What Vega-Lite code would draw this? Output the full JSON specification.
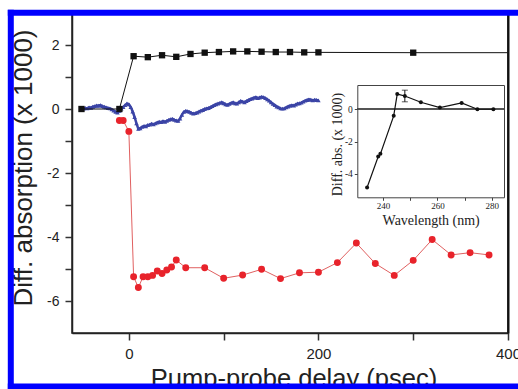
{
  "$schema": "https://vega.github.io/schema/vega-lite/v6.json",
  "width": 436,
  "height": 320,
  "autosize": {"type": "none"},
  "padding": {"left": 72, "top": 13, "right": 10, "bottom": 56},
  "background": "white",
  "config": {
    "view": {"stroke": "#222", "strokeWidth": 1.5},
    "axis": {"grid": false, "labelFont": "Liberation Sans", "titleFont": "Liberation Sans", "titleFontWeight": "normal"}
  },
  "datasets": {
    "blue": [
      {"t": -50, "v": 0.00}, {"t": -48, "v": 0.01}, {"t": -46, "v": 0.03}, {"t": -44, "v": 0.02}, {"t": -42, "v": 0.05},
      {"t": -40, "v": 0.04}, {"t": -38, "v": 0.07}, {"t": -36, "v": 0.09}, {"t": -34, "v": 0.11}, {"t": -32, "v": 0.10},
      {"t": -30, "v": 0.12}, {"t": -28, "v": 0.09}, {"t": -26, "v": 0.07}, {"t": -24, "v": 0.05}, {"t": -22, "v": 0.03},
      {"t": -20, "v": 0.02}, {"t": -18, "v": -0.01}, {"t": -16, "v": -0.05}, {"t": -14, "v": -0.09}, {"t": -12, "v": -0.11},
      {"t": -10, "v": -0.06}, {"t": -8, "v": 0.01}, {"t": -6, "v": 0.06}, {"t": -4, "v": 0.12}, {"t": -2, "v": 0.17},
      {"t": 0, "v": 0.15}, {"t": 2, "v": 0.06}, {"t": 4, "v": -0.08}, {"t": 6, "v": -0.25}, {"t": 8, "v": -0.45},
      {"t": 10, "v": -0.62}, {"t": 12, "v": -0.60}, {"t": 14, "v": -0.56}, {"t": 16, "v": -0.53}, {"t": 18, "v": -0.54},
      {"t": 20, "v": -0.50}, {"t": 22, "v": -0.49}, {"t": 24, "v": -0.46}, {"t": 26, "v": -0.48}, {"t": 28, "v": -0.45},
      {"t": 30, "v": -0.42}, {"t": 32, "v": -0.40}, {"t": 34, "v": -0.41}, {"t": 36, "v": -0.38}, {"t": 38, "v": -0.40},
      {"t": 40, "v": -0.37}, {"t": 42, "v": -0.34}, {"t": 44, "v": -0.32}, {"t": 46, "v": -0.31}, {"t": 48, "v": -0.34},
      {"t": 50, "v": -0.36}, {"t": 52, "v": -0.37}, {"t": 54, "v": -0.30}, {"t": 56, "v": -0.18}, {"t": 58, "v": -0.09},
      {"t": 60, "v": -0.06}, {"t": 62, "v": -0.07}, {"t": 64, "v": -0.09}, {"t": 66, "v": -0.12}, {"t": 68, "v": -0.14},
      {"t": 70, "v": -0.13}, {"t": 72, "v": -0.11}, {"t": 74, "v": -0.08}, {"t": 76, "v": -0.05}, {"t": 78, "v": -0.03},
      {"t": 80, "v": 0.00}, {"t": 82, "v": 0.02}, {"t": 84, "v": 0.03}, {"t": 86, "v": 0.06}, {"t": 88, "v": 0.09},
      {"t": 90, "v": 0.12}, {"t": 92, "v": 0.15}, {"t": 94, "v": 0.17}, {"t": 96, "v": 0.19}, {"t": 98, "v": 0.21},
      {"t": 100, "v": 0.18}, {"t": 102, "v": 0.15}, {"t": 104, "v": 0.13}, {"t": 106, "v": 0.16}, {"t": 108, "v": 0.19},
      {"t": 110, "v": 0.21}, {"t": 112, "v": 0.18}, {"t": 114, "v": 0.17}, {"t": 116, "v": 0.21}, {"t": 118, "v": 0.25},
      {"t": 120, "v": 0.23}, {"t": 122, "v": 0.21}, {"t": 124, "v": 0.25}, {"t": 126, "v": 0.28}, {"t": 128, "v": 0.31},
      {"t": 130, "v": 0.33}, {"t": 132, "v": 0.35}, {"t": 134, "v": 0.37}, {"t": 136, "v": 0.34}, {"t": 138, "v": 0.36},
      {"t": 140, "v": 0.38}, {"t": 142, "v": 0.37}, {"t": 144, "v": 0.34}, {"t": 146, "v": 0.30}, {"t": 148, "v": 0.26},
      {"t": 150, "v": 0.21}, {"t": 152, "v": 0.16}, {"t": 154, "v": 0.12}, {"t": 156, "v": 0.08}, {"t": 158, "v": 0.05},
      {"t": 160, "v": 0.02}, {"t": 162, "v": 0.01}, {"t": 164, "v": 0.02}, {"t": 166, "v": 0.05}, {"t": 168, "v": 0.08},
      {"t": 170, "v": 0.10}, {"t": 172, "v": 0.12}, {"t": 174, "v": 0.11}, {"t": 176, "v": 0.14}, {"t": 178, "v": 0.17},
      {"t": 180, "v": 0.18}, {"t": 182, "v": 0.20}, {"t": 184, "v": 0.23}, {"t": 186, "v": 0.26}, {"t": 188, "v": 0.28},
      {"t": 190, "v": 0.30}, {"t": 192, "v": 0.29}, {"t": 194, "v": 0.27}, {"t": 196, "v": 0.29}, {"t": 198, "v": 0.28},
      {"t": 200, "v": 0.27}
    ],
    "red": [
      {"t": -10, "v": -0.36}, {"t": -6, "v": -0.36}, {"t": 0, "v": -0.70}, {"t": 5, "v": -5.24}, {"t": 10, "v": -5.58},
      {"t": 15, "v": -5.24}, {"t": 20, "v": -5.24}, {"t": 25, "v": -5.20}, {"t": 30, "v": -5.06}, {"t": 35, "v": -5.14},
      {"t": 40, "v": -5.03}, {"t": 45, "v": -4.94}, {"t": 50, "v": -4.72}, {"t": 60, "v": -4.96}, {"t": 80, "v": -4.96},
      {"t": 100, "v": -5.29}, {"t": 120, "v": -5.19}, {"t": 140, "v": -5.01}, {"t": 160, "v": -5.30}, {"t": 180, "v": -5.12},
      {"t": 200, "v": -5.10}, {"t": 220, "v": -4.80}, {"t": 240, "v": -4.19}, {"t": 260, "v": -4.83}, {"t": 280, "v": -5.20},
      {"t": 300, "v": -4.73}, {"t": 320, "v": -4.08}, {"t": 340, "v": -4.56}, {"t": 360, "v": -4.49}, {"t": 380, "v": -4.56}
    ],
    "black": [
      {"t": -50, "v": 0}, {"t": -10, "v": 0}, {"t": 5, "v": 1.65}, {"t": 20, "v": 1.62}, {"t": 35, "v": 1.68},
      {"t": 50, "v": 1.63}, {"t": 65, "v": 1.72}, {"t": 80, "v": 1.76}, {"t": 95, "v": 1.78}, {"t": 110, "v": 1.80},
      {"t": 125, "v": 1.80}, {"t": 140, "v": 1.79}, {"t": 155, "v": 1.78}, {"t": 170, "v": 1.78}, {"t": 185, "v": 1.77},
      {"t": 200, "v": 1.77}, {"t": 300, "v": 1.76}, {"t": 430, "v": 1.76}
    ],
    "inset": [
      {"wl": 234.1, "v": -4.84}, {"wl": 238.2, "v": -2.93}, {"wl": 239.0, "v": -2.76}, {"wl": 243.9, "v": -0.41},
      {"wl": 245.2, "v": 0.94}, {"wl": 248.0, "v": 0.82}, {"wl": 253.9, "v": 0.43}, {"wl": 260.9, "v": 0.10},
      {"wl": 268.9, "v": 0.39}, {"wl": 274.7, "v": 0.00}, {"wl": 280.6, "v": 0.00}
    ],
    "err": [{"wl": 248.0, "lo": 0.46, "hi": 1.18}],
    "frame": [{"k": 0}]
  },
  "layer": [
    {
      "resolve": {"axis": {"y": "independent"}},
      "layer": [
        {
          "data": {"name": "blue"},
          "mark": {"type": "line", "color": "#3b44a6", "strokeWidth": 2.5, "clip": true, "point": {"shape": "triangle-up", "size": 20, "filled": true, "color": "#3b44a6"}},
          "encoding": {
            "x": {"field": "t", "type": "quantitative", "scale": {"domain": [-60, 400], "nice": false, "zero": false},
              "axis": {"values": [0, 100, 200, 300, 400], "labelExpr": "datum.value % 200 == 0 ? '' + datum.value : ''",
                "labelFontSize": 15, "labelColor": "#222", "labelPadding": 6, "labelFlush": false, "labelOverlap": false,
                "tickSize": 7, "tickWidth": 1.5, "tickColor": "#333", "domainColor": "#222", "domainWidth": 1.5,
                "title": "Pump-probe delay (psec)", "titleFontSize": 25.5, "titleColor": "#222",
                "titleX": 221.5, "titleY": 53, "titleAlign": "center", "titleBaseline": "alphabetic"}},
            "y": {"field": "v", "type": "quantitative", "scale": {"domain": [-7, 3], "nice": false, "zero": false},
              "axis": {"orient": "left", "values": [-6, -5, -4, -3, -2, -1, 0, 1, 2], "labelExpr": "datum.value % 2 == 0 ? '' + datum.value : ''",
                "labelFontSize": 14, "labelColor": "#222", "labelPadding": 6, "labelFlush": false, "labelOverlap": false,
                "tickSize": 7, "tickWidth": 1.5, "tickColor": "#333", "domainColor": "#222", "domainWidth": 1.5,
                "title": "Diff. absorption (x 1000)", "titleFontSize": 26, "titleColor": "#222",
                "titleX": -41, "titleY": 154.5, "titleAngle": -90, "titleAlign": "center", "titleBaseline": "alphabetic"}}
          }
        },
        {
          "data": {"name": "red"},
          "mark": {"type": "line", "color": "#e06060", "strokeWidth": 1, "clip": true, "point": {"size": 48, "filled": true, "color": "#e8232b", "opacity": 1}},
          "encoding": {
            "x": {"field": "t", "type": "quantitative"},
            "y": {"field": "v", "type": "quantitative", "axis": null}
          }
        },
        {
          "data": {"name": "black"},
          "mark": {"type": "line", "color": "#111", "strokeWidth": 1, "clip": true, "point": {"shape": "square", "size": 40, "filled": true, "color": "#111", "opacity": 1}},
          "encoding": {
            "x": {"field": "t", "type": "quantitative"},
            "y": {"field": "v", "type": "quantitative",
              "axis": {"orient": "right", "labels": false, "ticks": false, "title": null, "domain": true, "domainColor": "#111", "domainWidth": 2, "zindex": 2}}
          }
        },
        {
          "data": {"name": "frame"},
          "mark": {"type": "rule", "color": "#222", "strokeWidth": 1.5},
          "encoding": {
            "x": {"datum": 400, "type": "quantitative"}
          }
        }
      ]
    },
    {
      "resolve": {"scale": {"x": "shared", "y": "shared"}, "axis": {"x": "independent", "y": "independent"}},
      "layer": [
        {
          "data": {"name": "inset"},
          "mark": {"type": "rule", "color": "#555", "strokeWidth": 1.5},
          "encoding": {
            "x": {"datum": 230.5, "type": "quantitative",
              "scale": {"domain": [230.5, 284.5], "range": [285.3, 432], "nice": false, "zero": false},
              "axis": {"orient": "top", "offset": -72, "labels": false, "ticks": false, "title": null, "domainColor": "#444", "domainWidth": 1, "zindex": 1}},
            "x2": {"datum": 284.5},
            "y": {"datum": 0, "type": "quantitative",
              "scale": {"domain": [-5.45, 1.5], "range": [184.3, 72], "nice": false, "zero": false},
              "axis": {"orient": "right", "offset": -4, "labels": false, "ticks": false, "title": null, "domainColor": "#444", "domainWidth": 1, "zindex": 1}}
          }
        },
        {
          "data": {"name": "inset"},
          "mark": {"type": "line", "color": "#111", "strokeWidth": 1.2, "point": {"size": 16, "filled": true, "color": "#111", "opacity": 1}},
          "encoding": {
            "x": {"field": "wl", "type": "quantitative",
              "axis": {"orient": "bottom", "offset": -135.7, "values": [240, 250, 260, 270, 280],
                "labelExpr": "datum.value % 20 == 0 ? '' + datum.value : ''", "labelFont": "Liberation Serif", "labelFontSize": 9,
                "labelColor": "#222", "labelPadding": 1, "labelFlush": false, "labelOverlap": false,
                "tickSize": 3, "tickColor": "#444", "domainColor": "#444", "domainWidth": 1,
                "title": "Wavelength (nm)", "titleFont": "Liberation Serif", "titleFontSize": 14, "titleColor": "#222",
                "titleY": 27, "titleBaseline": "alphabetic", "zindex": 1}},
            "y": {"field": "v", "type": "quantitative",
              "axis": {"orient": "left", "offset": -285.3, "values": [-4, -2, 0], "labelExpr": "'' + datum.value",
                "labelFont": "Liberation Serif", "labelFontSize": 9.5, "labelColor": "#222", "labelPadding": 2, "labelFlush": false,
                "tickSize": 3, "tickColor": "#444", "domainColor": "#444", "domainWidth": 1,
                "title": "Diff. abs. (x 1000)", "titleFont": "Liberation Serif", "titleFontSize": 14, "titleColor": "#222",
                "titleX": -16.3, "titleY": 131, "titleAngle": -90, "titleAlign": "center", "titleBaseline": "alphabetic", "zindex": 1}}
          }
        },
        {
          "data": {"name": "err"},
          "mark": {"type": "errorbar", "ticks": {"size": 6, "color": "#111"}, "rule": {"color": "#111"}, "thickness": 1},
          "encoding": {
            "x": {"field": "wl", "type": "quantitative", "axis": null},
            "y": {"field": "lo", "type": "quantitative", "axis": null},
            "y2": {"field": "hi"}
          }
        }
      ]
    },
    {
      "resolve": {"scale": {"x": "shared", "y": "shared"}, "axis": {"x": "independent", "y": "independent"}},
      "layer": [
        {
          "data": {"name": "frame"},
          "mark": {"type": "point", "opacity": 0},
          "encoding": {
            "x": {"datum": 0, "type": "quantitative", "scale": {"domain": [0, 1], "range": [-64.7, 460], "nice": false, "zero": false},
              "axis": {"orient": "top", "offset": 0.8, "labels": false, "ticks": false, "title": null, "domainColor": "#0000ff", "domainWidth": 6, "domainCap": "butt", "zindex": 5}},
            "y": {"datum": 0, "type": "quantitative", "scale": {"domain": [0, 1], "range": [382, -3.7], "nice": false, "zero": false},
              "axis": {"orient": "left", "offset": 61.7, "labels": false, "ticks": false, "title": null, "domainColor": "#0000ff", "domainWidth": 6, "domainCap": "butt", "zindex": 5}}
          }
        },
        {
          "data": {"name": "frame"},
          "mark": {"type": "point", "opacity": 0},
          "encoding": {
            "x": {"datum": 0, "type": "quantitative",
              "axis": {"orient": "bottom", "offset": 53, "labels": false, "ticks": false, "title": null, "domainColor": "#0000ff", "domainWidth": 6, "domainCap": "butt", "zindex": 5}},
            "y": {"datum": 0, "type": "quantitative", "axis": null}
          }
        }
      ]
    }
  ],
  "resolve": {"scale": {"x": "independent", "y": "independent"}, "axis": {"x": "independent", "y": "independent"}}
}
